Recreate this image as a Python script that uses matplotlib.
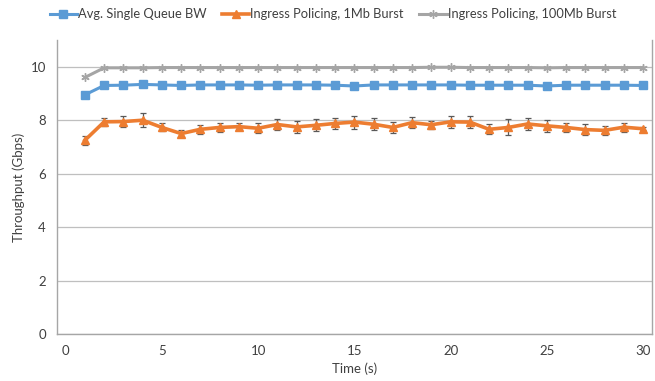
import matplotlib
matplotlib.use("Agg")
import matplotlib.pyplot as plt
from matplotlib.lines import Line2D

plt.rcParams['font.family'] = ['Lato', 'DejaVu Sans']

time_s = list(range(1, 31))
avg_single_queue = [8.95, 9.30, 9.31, 9.34, 9.32, 9.30, 9.32, 9.32, 9.32, 9.31,
                    9.32, 9.32, 9.32, 9.31, 9.28, 9.32, 9.32, 9.32, 9.32, 9.32,
                    9.31, 9.31, 9.31, 9.31, 9.28, 9.31, 9.31, 9.31, 9.31, 9.30]
policing_1mb = [7.25, 7.94, 7.95, 8.00, 7.73, 7.50, 7.66, 7.73, 7.76, 7.70,
                7.84, 7.75, 7.81, 7.88, 7.93, 7.85, 7.73, 7.91, 7.83, 7.94,
                7.93, 7.66, 7.73, 7.86, 7.79, 7.73, 7.65, 7.62, 7.74, 7.68]
policing_1mb_err = [0.16, 0.14, 0.19, 0.26, 0.15, 0.12, 0.17, 0.18, 0.14, 0.18,
                    0.19, 0.21, 0.22, 0.22, 0.24, 0.22, 0.21, 0.20, 0.14, 0.22,
                    0.22, 0.19, 0.30, 0.22, 0.22, 0.17, 0.20, 0.17, 0.17, 0.05]
policing_100mb = [9.60, 9.96, 9.96, 9.96, 9.97, 9.97, 9.97, 9.97, 9.97, 9.97,
                  9.97, 9.97, 9.97, 9.97, 9.97, 9.97, 9.97, 9.97, 9.98, 9.98,
                  9.97, 9.97, 9.97, 9.97, 9.96, 9.97, 9.97, 9.97, 9.97, 9.97]

labels = ["Avg. Single Queue BW", "Ingress Policing, 1Mb Burst", "Ingress Policing, 100Mb Burst"]
x_ticks = [0, 5, 10, 15, 20, 25, 30]
y_ticks = [0, 2, 4, 6, 8, 10]

fig = plt.figure(figsize=(6.55, 3.81), dpi=100)
ax = fig.add_axes([0.087, 0.123, 0.908, 0.772])

blue = '#5B9BD5'
orange = '#ED7D31'
gray = '#A5A5A5'
star = (6, 2, 0)

ax.plot(time_s, avg_single_queue, color=blue, lw=2.2, marker='s', ms=5.5, zorder=3)
ax.errorbar(time_s, policing_1mb, yerr=policing_1mb_err, color=orange, lw=2.6,
            marker='^', ms=6, ecolor='#595959', elinewidth=0.9, capsize=2.5,
            capthick=0.9, zorder=3)
ax.plot(time_s, policing_100mb, color=gray, lw=2.2, marker=star, ms=6,
        mew=1.0, zorder=3)

ax.set_xlim(-0.45, 30.45)
ax.set_ylim(0, 11)
ax.set_xticks(x_ticks)
ax.set_yticks(y_ticks)
ax.tick_params(length=0, labelsize=9.5, colors='#404040', pad=8)
ax.grid(axis='y', color='#BFBFBF', lw=0.9)
ax.set_axisbelow(True)
for s in ['left', 'bottom', 'right']:
    ax.spines[s].set_color('#A6A6A6')
    ax.spines[s].set_linewidth(1.0)
ax.spines['top'].set_visible(False)

ax.set_xlabel("Time (s)", fontsize=9.5, color='#404040')
ax.set_ylabel("Throughput (Gbps)", fontsize=9.5, color='#404040')

handles = [
    Line2D([], [], color=blue, lw=2.2, marker='s', ms=5.5),
    Line2D([], [], color=orange, lw=2.6, marker='^', ms=6),
    Line2D([], [], color=gray, lw=2.2, marker=star, ms=6, mew=1.0),
]
ax.legend(handles, labels, loc='center', bbox_to_anchor=(0.464, 1.088), ncol=3,
          frameon=False, fontsize=9.3, handlelength=2.1, columnspacing=1.2,
          handletextpad=0.1, labelcolor='#404040', borderpad=0)

fig.savefig("out.png", dpi=100)
